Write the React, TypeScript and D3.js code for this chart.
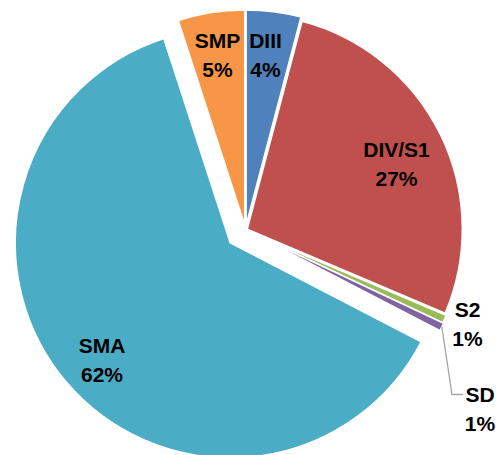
import React from 'react';
import * as d3 from 'd3';

// slice data, clockwise from 12 o'clock
const names = ['DIII', 'DIV/S1', 'S2', 'SD', 'SMA', 'SMP'];
const shares = [4.1, 27.3, 0.6, 0.6, 62.4, 5.0];
const colors = ['#4f81bd', '#c0504d', '#9bbb59', '#8064a2', '#4bacc6', '#f79646'];

// how far each slice is pulled out of the pie (px)
const explode = [5, 2, 3, 4, 20, 5];

// label anchors (centre x, first baseline y)
const labelPos: [number, number][] = [
  [265.5, 47.5],
  [396.5, 156.5],
  [467.5, 316.5],
  [480, 401.5],
  [102, 353],
  [217.5, 47.5],
];

const W = 496;
const H = 455;
const cx = 245.5;
const cy = 230;
const R = 215;

export default function App() {
  const pie = d3.pie<number>().sort(null).value((d) => d).startAngle(0).endAngle(2 * Math.PI);
  const arcs = pie(shares);
  const arc = d3.arc<d3.PieArcDatum<number>>().innerRadius(0).outerRadius(R);

  // leader line for the SD label
  const sd = arcs[3];
  const sdMid = (sd.startAngle + sd.endAngle) / 2;
  const sdOut = R + explode[3];
  const lx = cx + Math.sin(sdMid) * sdOut;
  const ly = cy - Math.cos(sdMid) * sdOut;
  const leader = d3.line()([
    [lx, ly],
    [labelPos[3][0] - 28, labelPos[3][1] - 7],
    [labelPos[3][0] - 17, labelPos[3][1] - 7],
  ]);

  return (
    <div style={{ position: 'absolute', left: 0, top: 0 }}>
      <svg width={W} height={H} style={{ display: 'block' }}>
        <rect width={W} height={H} fill="#ffffff" />
        <g transform={`translate(${cx},${cy})`}>
          {arcs.map((a, i) => {
            const mid = (a.startAngle + a.endAngle) / 2;
            const dx = Math.sin(mid) * explode[i];
            const dy = -Math.cos(mid) * explode[i];
            return (
              <path
                key={names[i]}
                d={arc(a) || ''}
                transform={`translate(${dx},${dy})`}
                fill={colors[i]}
                stroke="#ffffff"
                strokeWidth={1.5}
                strokeLinejoin="round"
              />
            );
          })}
        </g>
        <path d={leader || ''} fill="none" stroke="#a6a6a6" strokeWidth={1.3} />
        {names.map((n, i) => (
          <text
            key={n}
            x={labelPos[i][0]}
            y={labelPos[i][1]}
            textAnchor="middle"
            fontFamily="'Liberation Sans', Arial, sans-serif"
            fontWeight="bold"
            fontSize={21}
            fill="#000000"
          >
            <tspan x={labelPos[i][0]}>{n}</tspan>
            <tspan x={labelPos[i][0]} dy={29}>
              {Math.round(shares[i])}%
            </tspan>
          </text>
        ))}
      </svg>
    </div>
  );
}
